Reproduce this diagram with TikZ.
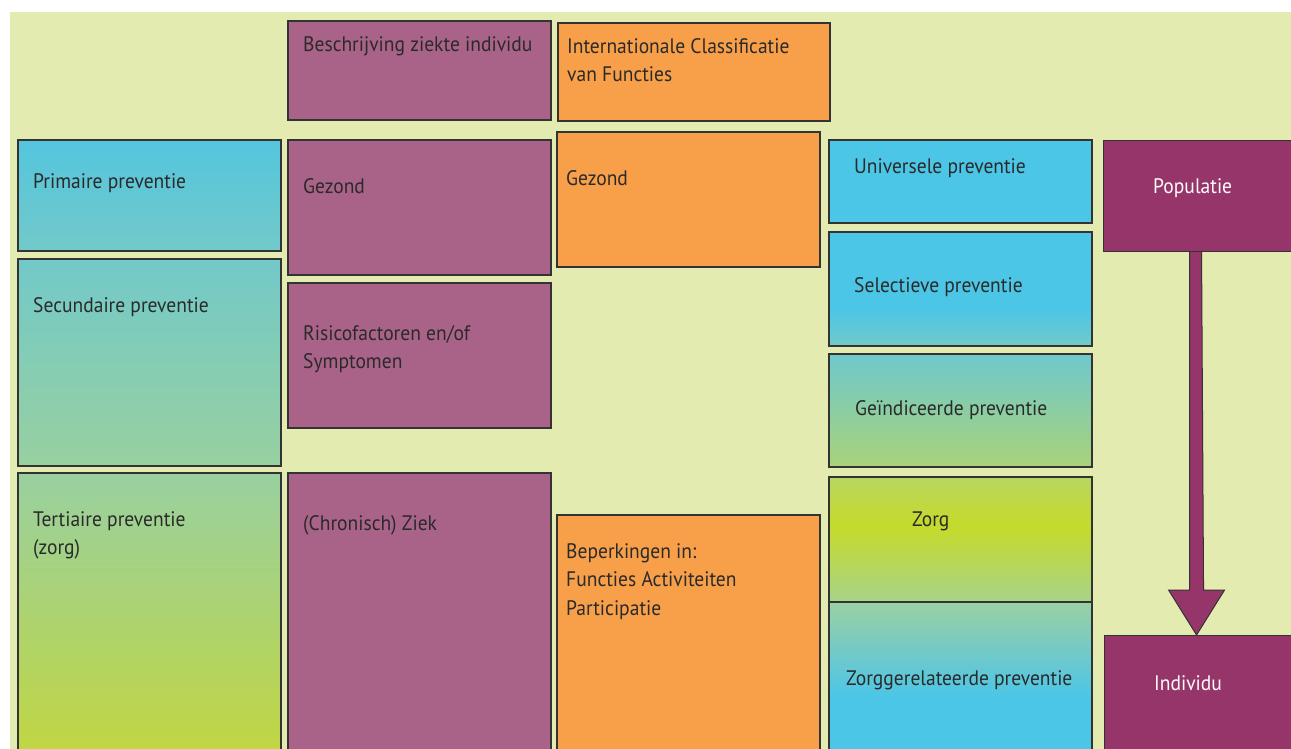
\documentclass[tikz,border=0pt]{standalone}
\usepackage{fontspec}
\setmainfont[FakeStretch=0.93]{PT Sans}
\usetikzlibrary{calc}

\definecolor{achtergrond}{HTML}{E4EBB0}
\definecolor{cyaan}{HTML}{4CC6E6}
\definecolor{cyaanlicht}{HTML}{54C5DE}
\definecolor{teal}{HTML}{72C9C9}
\definecolor{mintgroen}{HTML}{98D0A0}
\definecolor{limoen}{HTML}{C2D640}
\definecolor{felgroen}{HTML}{C4DA2E}
\definecolor{zorgtop}{HTML}{B8D660}
\definecolor{zorgbodem}{HTML}{A8D38A}
\definecolor{zgptop}{HTML}{9AD1A2}
\definecolor{paars}{HTML}{A96388}
\definecolor{oranje}{HTML}{F8A049}
\definecolor{donkerpaars}{HTML}{96356A}
\definecolor{tekstkleur}{HTML}{2A2A2A}

%verlopen (25bp = onderkant, 75bp = bovenkant van het vlak)
\pgfdeclareverticalshading{selverloop}{100bp}{color(0bp)=(teal); color(25bp)=(teal); color(41bp)=(cyaan); color(100bp)=(cyaan)}
\pgfdeclareverticalshading{zorgverloop}{100bp}{color(0bp)=(zorgbodem); color(25bp)=(zorgbodem); color(54bp)=(felgroen); color(57bp)=(felgroen); color(75bp)=(zorgtop); color(100bp)=(zorgtop)}
\pgfdeclareverticalshading{zgpverloop}{100bp}{color(0bp)=(cyaan); color(45bp)=(cyaan); color(59bp)=(teal); color(75bp)=(zgptop); color(100bp)=(zgptop)}

\begin{document}
\begin{tikzpicture}[x=1pt,y=-1pt,
	blok/.style={draw=black!80, line width=1.1pt},
	tekst/.style={anchor=north west, inner sep=0pt, align=left, text=tekstkleur,
		font=\fontsize{21}{28.5}\selectfont},
	wittekst/.style={tekst, text=white!95!pink},
	primvlak/.style={blok, top color=cyaanlicht, bottom color=teal},
	secvlak/.style={blok, top color=teal, bottom color=mintgroen},
	tertvlak/.style={blok, top color=mintgroen, bottom color=limoen},
	ziektevlak/.style={blok, fill=paars},
	icfvlak/.style={blok, fill=oranje},
	selvlak/.style={blok, shading=selverloop},
	indvlak/.style={blok, top color=teal!90!cyaan, bottom color=mintgroen!60!limoen},
	zorgvlak/.style={blok, shading=zorgverloop},
	zgpvlak/.style={blok, shading=zgpverloop},
	niveau/.style={blok, fill=donkerpaars, inner sep=0pt, anchor=north west},
	pijl/.style={draw=black!80, line width=1pt, fill=donkerpaars, line join=miter}]

	%pagina en achtergrond
	\useasboundingbox (0,0) rectangle (1291,749);
	\fill[achtergrond] (10,12) rectangle (1291,749);

	%kolom preventie
	\draw[primvlak] (18,140) rectangle (281,251);
	\draw[secvlak] (18,259) rectangle (281,466);
	\draw[tertvlak] (18,473) rectangle (281,760);
	\node[tekst] (prim) at (33,173) {Primaire preventie};
	\node[tekst] (sec) at (33,297) {Secundaire preventie};
	\node[tekst] (tert) at (33,511) {Tertiaire preventie\\(zorg)};

	%kolom ziekte
	\draw[ziektevlak] (288,21) rectangle (551,120);
	\draw[ziektevlak] (288,140) rectangle (551,275);
	\draw[ziektevlak] (288,283) rectangle (551,428);
	\draw[ziektevlak] (288,473) rectangle (551,760);
	\node[tekst] (beschr) at (303,36) {Beschrijving ziekte individu};
	\node[tekst] (gezond) at (303,178) {Gezond};
	\node[tekst] (risico) at (303,325) {Risicofactoren en/of\\Symptomen};
	\node[tekst] (ziek) at (303,515) {(Chronisch) Ziek};

	%kolom ICF
	\draw[icfvlak] (558,23) rectangle (830,121);
	\draw[icfvlak] (557,132) rectangle (820,267);
	\draw[icfvlak] (557,515) rectangle (820,760);
	\node[tekst] (icf) at (567,38) {Internationale Classificatie\\van Functies};
	\node[tekst] (icfgezond) at (566,170) {Gezond};
	\node[tekst] (beperk) at (566,543) {Beperkingen in:\\Functies Activiteiten\\Participatie};

	%kolom doelgroep
	\draw[blok, fill=cyaan] (829,140) rectangle (1092,223);
	\draw[selvlak] (829,232) rectangle (1092,346);
	\draw[indvlak] (829,354) rectangle (1092,467);
	\draw[zorgvlak] (829,477) rectangle (1092,602);
	\draw[zgpvlak] (829,602) rectangle (1092,760);
	\node[tekst] (univ) at (854,158) {Universele preventie};
	\node[tekst] (select) at (854,277) {Selectieve preventie};
	\node[tekst] (indic) at (855,400) {Geïndiceerde preventie};
	\node[tekst] (zorg) at (912,512) {Zorg};
	\node[tekst] (zgp) at (846,670) {Zorggerelateerde preventie};

	%populatie naar individu
	\node[niveau, minimum width=190, minimum height=111] (pop) at (1103,140) {};
	\node[niveau, minimum width=190, minimum height=125] (ind) at (1104,635) {};
	\node[wittekst] (poptekst) at (1153,178) {Populatie};
	\node[wittekst] (indtekst) at (1154,675) {Individu};
	\draw[pijl] ($(pop.south)+(-9,0)$) -- ($(ind.north)+(-10,-45)$) -- ($(ind.north)+(-31,-45)$)
		-- ($(ind.north)+(-3,0)$) -- ($(ind.north)+(25,-45)$) -- ($(ind.north)+(4,-45)$)
		-- ($(pop.south)+(3,0)$);
\end{tikzpicture}
\end{document}
